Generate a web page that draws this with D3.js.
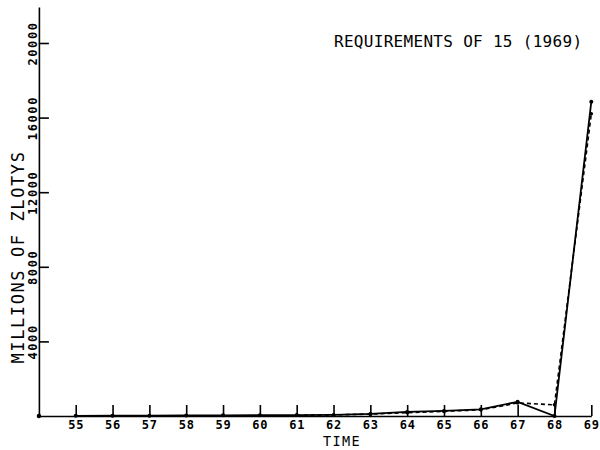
<!DOCTYPE html>
<meta charset="utf-8">
<body style="margin:0;background:#fff;">
<svg width="600" height="450"></svg>
</body>
<script src="https://cdn.jsdelivr.net/npm/d3@7"></script>
<script>
    // years on the time axis (19xx)
    let years = [55, 56, 57, 58, 59, 60, 61, 62, 63, 64, 65, 66, 67, 68, 69];
    // solid line - requirements
    let solidVals = [10, 15, 20, 30, 35, 40, 50, 60, 110, 220, 270, 360, 760, 0, 16850];
    // dashed line
    let dashYears = [61, 62, 63, 64, 65, 66, 67, 68, 69];
    let dashVals = [40, 60, 100, 180, 250, 330, 700, 600, 16200];
    let yTicks = [4000, 8000, 12000, 16000, 20000];

    let svg = d3.select("svg"),
        font = "'DejaVu Sans Mono', monospace";

    let x = d3.scaleLinear().domain([54, 69]).range([38.9, 591.3]);
    let y = d3.scaleLinear().domain([0, 21930]).range([416, 7]);

    // x axis, ticks pointing up
    let gx = svg.append("g")
        .attr("transform", `translate(0,${y(0)})`)
        .call(d3.axisBottom(x).tickValues(years).tickSizeInner(-11).tickSizeOuter(0).tickFormat(d3.format("d")));
    gx.selectAll("text")
        .attr("y", 12.5)
        .attr("dy", 0)
        .style("font", `bold 12px ${font}`)
        .style("letter-spacing", "0.8px")
        .attr("fill", "#000");

    // y axis, ticks pointing right
    let gy = svg.append("g")
        .attr("transform", `translate(${x(54)},0)`)
        .call(d3.axisLeft(y).tickValues(yTicks).tickSizeInner(-10).tickSizeOuter(0).tickFormat(d3.format("d")));
    gy.selectAll("text")
        .attr("x", 0).attr("y", 0).attr("dy", 0)
        .attr("text-anchor", "middle")
        .attr("transform", "translate(-1.5,0) rotate(-90)")
        .style("font", `bold 12px ${font}`)
        .style("letter-spacing", "1.6px")
        .attr("fill", "#000");

    svg.selectAll(".domain, .tick line").attr("stroke", "#000").attr("stroke-width", 1.6);

    let line = d3.line().x(d => x(d[0])).y(d => y(d[1]));
    let solid = years.map((d, i) => [d, solidVals[i]]);
    let dashed = dashYears.map((d, i) => [d, dashVals[i]]);

    svg.append("path").datum(dashed)
        .attr("d", line)
        .attr("fill", "none").attr("stroke", "#000")
        .attr("stroke-width", 1.6).attr("stroke-dasharray", "4,3");
    svg.append("path").datum(solid)
        .attr("d", line)
        .attr("fill", "none").attr("stroke", "#000").attr("stroke-width", 1.8);

    svg.selectAll("circle.s").data(solid).join("circle")
        .attr("cx", d => x(d[0])).attr("cy", d => y(d[1])).attr("r", 2).attr("fill", "#000");
    svg.selectAll("circle.d").data(dashed.slice(2)).join("circle")
        .attr("cx", d => x(d[0])).attr("cy", d => y(d[1])).attr("r", 1.8).attr("fill", "#000");
    svg.append("circle").attr("cx", x(54)).attr("cy", y(0)).attr("r", 2.2).attr("fill", "#000");

    // titles
    svg.append("text")
        .attr("x", 334).attr("y", 47)
        .style("font", `16px ${font}`)
        .style("letter-spacing", "0.3px")
        .text("REQUIREMENTS OF 15 (1969)");
    svg.append("text")
        .attr("x", 342).attr("y", 446)
        .attr("text-anchor", "middle")
        .style("font", `13.5px ${font}`)
        .style("letter-spacing", "1.4px")
        .text("TIME");
    svg.append("text")
        .attr("transform", "translate(24,257) rotate(-90)")
        .attr("text-anchor", "middle")
        .style("font", `17px ${font}`)
        .style("letter-spacing", "1.6px")
        .text("MILLIONS OF ZLOTYS");
</script>
